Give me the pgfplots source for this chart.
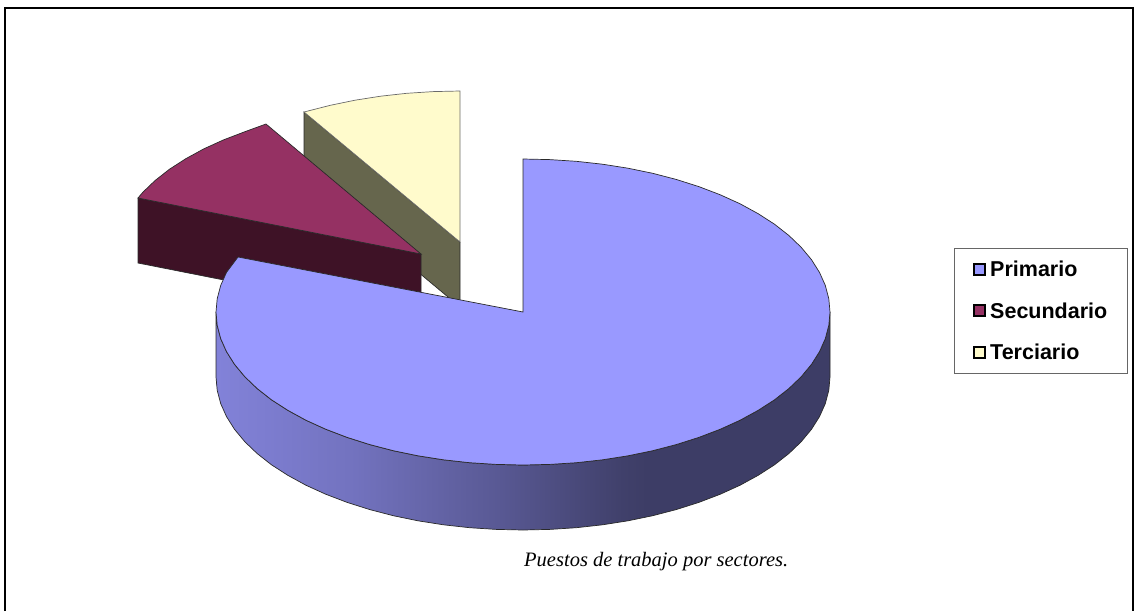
\documentclass[border=0pt]{standalone}
\usepackage{pgfplots}
\pgfplotsset{compat=1.18}
\usepackage{fontspec}
\setmainfont{Liberation Sans}
\newfontfamily\serifcap{Liberation Serif}
\definecolor{prim}{HTML}{9999FF}
\definecolor{sec}{HTML}{953163}
\definecolor{secside}{HTML}{3E1226}
\definecolor{ter}{HTML}{FFFBCC}
\definecolor{terside}{HTML}{66664D}
\definecolor{edge}{HTML}{2A2A2A}
\pgfdeclarehorizontalshading{wall}{100bp}{
 color(0bp)=(prim!85!black);
 color(25bp)=(prim!85!black);
 color(36bp)=(prim!75!black);
 color(48bp)=(prim!58!black);
 color(58bp)=(prim!42!black);
 color(60bp)=(prim!40!black);
 color(75bp)=(prim!40!black);
 color(100bp)=(prim!40!black)}
\begin{document}
\begin{tikzpicture}[x=1pt,y=1pt]
\useasboundingbox (0,0) rectangle (1138,611);
\begin{axis}[
  at={(0,0)},anchor=south west,
  scale only axis,width=1138pt,height=611pt,
  xmin=0,xmax=1138,ymin=0,ymax=611,y dir=reverse,
  hide axis,clip=false,
  legend style={at={(axis cs:954,248)},anchor=north west,draw=gray!80!black,line width=1.2pt,
    inner xsep=18pt,inner ysep=10.5pt,
    font=\fontsize{21.5}{25}\selectfont\bfseries,
    /tikz/every even column/.append style={column sep=0pt},
    row sep=20.5pt},
  legend cell align=left,
  legend image code/.code={\draw[#1,line width=2pt,draw=black] (0pt,-5pt) rectangle (11pt,6pt);\path (14pt,0pt);},
]
% frame (the bottom edge lies outside the crop)
\addplot[draw=black,line width=2pt,forget plot] coordinates {(5,611) (5,8) (1133,8) (1133,611)};
% legend-only entries
\addlegendimage{fill=prim}\addlegendentry{Primario}
\addlegendimage{fill=sec}\addlegendentry{Secundario}
\addlegendimage{fill=ter}\addlegendentry{Terciario}
% Terciario
\addplot[fill=terside,draw=edge,line width=0.7pt,forget plot] coordinates {(304,112) (460,242) (460,307) (304,177)} --cycle;
\addplot[fill=ter,draw=edge!70,line width=0.7pt,forget plot] coordinates {(304,112) (330.3,105.3) (355,100.2) (380.5,96.2) (406.7,93.3) (433.2,91.6) (460,91) (460,242)} --cycle;
% Secundario
\addplot[fill=secside,draw=edge,line width=0.7pt,forget plot] coordinates {(138,198) (421,254) (421,319) (138,263)} --cycle;
\addplot[fill=sec,draw=edge,line width=0.7pt,forget plot] coordinates {(138,198) (142.8,192.3) (155.1,180.5) (169.5,169.2) (185.8,158.7) (203.9,148.8) (223.7,139.8) (244.9,131.7) (266,124) (421,254)} --cycle;
% Primario wall
\addplot[shading=wall,draw=edge,line width=0.7pt,forget plot] coordinates {
 (830,312) (828.8,325.3) (825.3,338.6) (819.5,351.6) (811.5,364.3) (801.2,376.7) (788.9,388.5) (774.5,399.8) (758.2,410.3) (740.1,420.2) (720.3,429.2) (699.1,437.3) (676.5,444.5) (652.7,450.7) (628,455.8) (602.5,459.8) (576.3,462.7) (549.8,464.4) (523,465) (496.2,464.4) (469.7,462.7) (443.5,459.8) (418,455.8) (393.3,450.7) (369.5,444.5) (346.9,437.3) (325.7,429.2) (305.9,420.2) (287.8,410.3) (271.5,399.8) (257.1,388.5) (244.8,376.7) (234.5,364.3) (226.5,351.6) (220.7,338.6) (217.2,325.3) (216,312)
 (216,377) (217.2,390.3) (220.7,403.6) (226.5,416.6) (234.5,429.3) (244.8,441.7) (257.1,453.5) (271.5,464.8) (287.8,475.3) (305.9,485.2) (325.7,494.2) (346.9,502.3) (369.5,509.5) (393.3,515.7) (418,520.8) (443.5,524.8) (469.7,527.7) (496.2,529.4) (523,530) (549.8,529.4) (576.3,527.7) (602.5,524.8) (628,520.8) (652.7,515.7) (676.5,509.5) (699.1,502.3) (720.3,494.2) (740.1,485.2) (758.2,475.3) (774.5,464.8) (788.9,453.5) (801.2,441.7) (811.5,429.3) (819.5,416.6) (825.3,403.6) (828.8,390.3) (830,377)
} --cycle;
% Primario top
\addplot[fill=prim,draw=edge,line width=0.7pt,forget plot] coordinates {
 (523,312) (523,159) (549.8,159.6) (576.3,161.3) (602.5,164.2) (628,168.2) (652.7,173.3) (676.5,179.5) (699.1,186.7) (720.3,194.8) (740.1,203.8) (758.2,213.7) (774.5,224.2) (788.9,235.5) (801.2,247.3) (811.5,259.7) (819.5,272.4) (825.3,285.4) (828.8,298.7) (830,312) (828.8,325.3) (825.3,338.6) (819.5,351.6) (811.5,364.3) (801.2,376.7) (788.9,388.5) (774.5,399.8) (758.2,410.3) (740.1,420.2) (720.3,429.2) (699.1,437.3) (676.5,444.5) (652.7,450.7) (628,455.8) (602.5,459.8) (576.3,462.7) (549.8,464.4) (523,465) (496.2,464.4) (469.7,462.7) (443.5,459.8) (418,455.8) (393.3,450.7) (369.5,444.5) (346.9,437.3) (325.7,429.2) (305.9,420.2) (287.8,410.3) (271.5,399.8) (257.1,388.5) (244.8,376.7) (234.5,364.3) (226.5,351.6) (220.7,338.6) (217.2,325.3) (216,312) (217.2,298.7) (220.7,285.4) (226.5,272.4) (238,257)
} --cycle;
\node[anchor=base west,inner sep=0pt,font=\serifcap\itshape\fontsize{20.5}{25}\selectfont] at (axis cs:524,566.5) {Puestos de trabajo por sectores.};
\end{axis}
\end{tikzpicture}
\end{document}
